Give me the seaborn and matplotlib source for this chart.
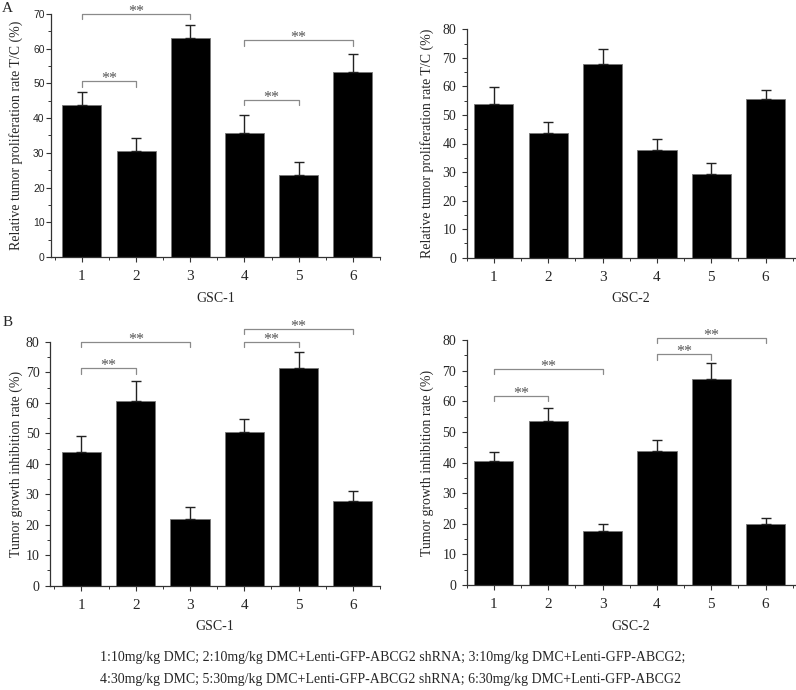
import numpy as np
import pandas as pd
import matplotlib
matplotlib.use('Agg')
import matplotlib.pyplot as plt
from matplotlib.ticker import MultipleLocator, FixedLocator
import seaborn as sns

# data
groups = ['1', '2', '3', '4', '5', '6']

prolif_gsc1 = [43.7, 30.6, 63.2, 35.7, 23.7, 53.2]
prolif_gsc1_err = [3.7, 3.6, 3.7, 5.1, 3.7, 5.4]
prolif_gsc2 = [53.7, 43.8, 67.7, 37.6, 29.4, 55.5]
prolif_gsc2_err = [6.0, 3.6, 5.3, 3.9, 3.7, 3.2]

inhib_gsc1 = [43.8, 60.5, 21.9, 50.3, 71.4, 27.7]
inhib_gsc1_err = [5.3, 6.7, 3.9, 4.3, 5.2, 3.3]
inhib_gsc2 = [40.4, 53.4, 17.5, 43.9, 67.3, 19.8]
inhib_gsc2_err = [3.1, 4.3, 2.3, 3.3, 5.3, 2.2]

# significance brackets: (group a, group b, height)
sig_prolif_gsc1 = [(1, 2, 50.6), (4, 5, 45.2), (1, 3, 70.0), (4, 6, 62.4)]
sig_prolif_gsc2 = []
sig_inhib_gsc1 = [(1, 2, 71.4), (1, 3, 80.0), (4, 5, 80.0), (4, 6, 84.4)]
sig_inhib_gsc2 = [(1, 2, 61.8), (1, 3, 70.5), (4, 5, 75.3), (4, 6, 80.8)]

legend_lines = [
    '1:10mg/kg DMC; 2:10mg/kg DMC+Lenti-GFP-ABCG2 shRNA; 3:10mg/kg DMC+Lenti-GFP-ABCG2;',
    '4:30mg/kg DMC; 5:30mg/kg DMC+Lenti-GFP-ABCG2 shRNA; 6:30mg/kg DMC+Lenti-GFP-ABCG2',
]

sns.set_style('ticks')
plt.rcParams['font.family'] = ['Liberation Serif', 'DejaVu Serif']
plt.rcParams['axes.linewidth'] = 0.9
plt.rcParams['axes.edgecolor'] = '#333333'

W, H = 796, 690
fig = plt.figure(figsize=(W / 100, H / 100), dpi=100)


def px_axes(left, right, top, bottom):
    return fig.add_axes([left / W, 1 - bottom / H, (right - left) / W, (bottom - top) / H])


def draw_panel(ax, vals, errs, sigs, ylabel, xlabel, ymax, xlim, ylab_x, sans_ticks=False):
    df = pd.DataFrame({'group': groups, 'value': vals})
    sns.barplot(data=df, x='group', y='value', order=groups, color='black',
                width=0.72, edgecolor='#777777', linewidth=0.6, errorbar=None,
                saturation=1, ax=ax)
    xs = np.arange(len(groups))
    ax.errorbar(xs, vals, yerr=[np.zeros(len(vals)), errs], fmt='none',
                ecolor='#222222', elinewidth=1.0, capsize=3.5, capthick=1.0)
    for a, b, y in sigs:
        x1, x2 = a - 1, b - 1
        drop = ymax * 0.022
        ax.plot([x1, x1, x2, x2], [y - drop, y, y, y - drop], color='#8a8a8a',
                lw=0.9, clip_on=False)
        ax.annotate('**', xy=((x1 + x2) / 2, y), xytext=(0, -1.5),
                    textcoords='offset points', ha='center', va='baseline',
                    fontsize=11.5, color='#555555', annotation_clip=False)
    ax.set_ylim(0, ymax)
    ax.set_xlim(*xlim)
    ax.yaxis.set_major_locator(MultipleLocator(10))
    ax.yaxis.set_minor_locator(MultipleLocator(5))
    ax.xaxis.set_minor_locator(FixedLocator(np.arange(-0.5, 6, 1.0)))
    ax.tick_params(axis='both', which='major', direction='out', length=3.6,
                   width=0.8, color='#333333')
    ax.tick_params(axis='both', which='minor', direction='out', length=2.2,
                   width=0.7, color='#333333')
    ax.tick_params(axis='x', which='major', labelsize=11, pad=6)
    if sans_ticks:
        ax.tick_params(axis='y', which='major', labelsize=7.5, pad=1)
        for lab in ax.get_yticklabels():
            lab.set_family('Liberation Sans')
    else:
        ax.tick_params(axis='y', which='major', labelsize=10, pad=4)
    ax.set_ylabel(ylabel, fontsize=10)
    ax.yaxis.set_label_coords(ylab_x, 0.5)
    ax.set_xlabel(xlabel, fontsize=10, labelpad=6)
    sns.despine(ax=ax)


ax1 = px_axes(51, 380, 14, 257)
draw_panel(ax1, prolif_gsc1, prolif_gsc1_err, sig_prolif_gsc1,
           'Relative tumor proliferation rate T/C (%)', 'GSC-1', 70, (-0.57, 5.5),
           (23 - 51) / 329, sans_ticks=True)
ax2 = px_axes(466.7, 795, 29.3, 257.7)
draw_panel(ax2, prolif_gsc2, prolif_gsc2_err, sig_prolif_gsc2,
           'Relative tumor proliferation rate T/C (%)', 'GSC-2', 80, (-0.5, 5.54),
           (434 - 466.7) / 328.3)
ax3 = px_axes(50, 380, 342, 585.7)
draw_panel(ax3, inhib_gsc1, inhib_gsc1_err, sig_inhib_gsc1,
           'Tumor growth inhibition rate (%)', 'GSC-1', 80, (-0.58, 5.5),
           (23 - 50) / 330)
ax4 = px_axes(466.7, 795, 340, 585)
draw_panel(ax4, inhib_gsc2, inhib_gsc2_err, sig_inhib_gsc2,
           'Tumor growth inhibition rate (%)', 'GSC-2', 80, (-0.5, 5.54),
           (434 - 466.7) / 328.3)

fig.text(2 / W, 1 - 9 / H, 'A', fontsize=11, ha='left', va='center')
fig.text(3 / W, 1 - 323 / H, 'B', fontsize=11, ha='left', va='center')

fig.text(100 / W, 1 - 658 / H, legend_lines[0], fontsize=10, ha='left', va='center')
fig.text(100 / W, 1 - 679 / H, legend_lines[1], fontsize=10, ha='left', va='center')

fig.savefig('out.png', dpi=100)
